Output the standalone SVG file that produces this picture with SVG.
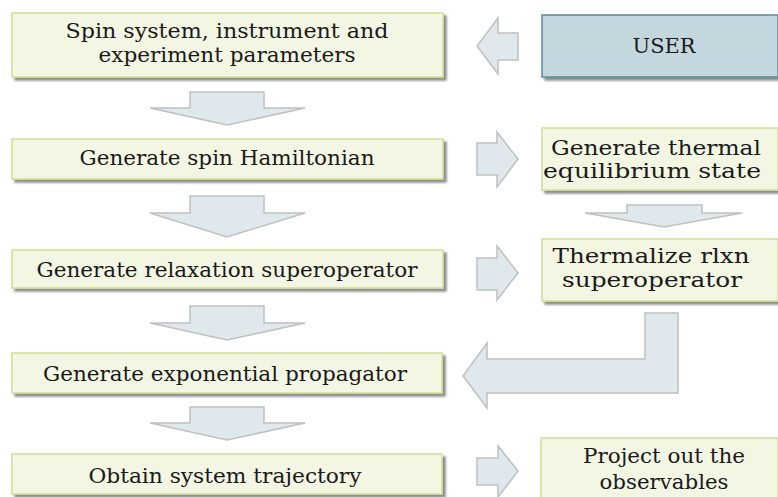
<svg xmlns="http://www.w3.org/2000/svg" width="778" height="497" viewBox="0 0 778 497">
<defs>
<filter id="sh" x="-5%" y="-20%" width="115%" height="150%">
<feGaussianBlur in="SourceAlpha" stdDeviation="1.3"/>
<feOffset dx="2.5" dy="2.5" result="b"/>
<feComponentTransfer><feFuncA type="linear" slope="0.45"/></feComponentTransfer>
<feMerge><feMergeNode/><feMergeNode in="SourceGraphic"/></feMerge>
</filter>
<style>
.box{fill:#F4F6E4;stroke:#D0DE94;stroke-width:1.5;filter:url(#sh)}
.user{fill:#C4D7DE;stroke:#5B8A96;stroke-width:1.5;filter:url(#sh)}
.arr{fill:#DEE8ED;stroke:#C0C0C0;stroke-width:1.5}
text{font-family:"DejaVu Serif","Liberation Serif",serif;font-size:21px;fill:#1a1a1a;text-anchor:middle}
</style>
</defs>
<rect width="778" height="497" fill="#fff"/>
<g id="connectors">
<polygon class="arr" points="518,33 498,33 498,18 477,46 498,74 498,60 518,60"/>
<polygon class="arr" points="190,92 264,92 264,108 305,108 227,125 150,108 190,108"/>
<polygon class="arr" points="477,143 497,143 497,132 518,159 497,187 497,175 477,175"/>
<polygon class="arr" points="190,196 264,196 264,213 305,213 227,237 150,213 190,213"/>
<polygon class="arr" points="627,205 702,205 702,213 742,213 664,227 585,213 627,213"/>
<polygon class="arr" points="477,258 497,258 497,246 518,273 497,300 497,290 477,290"/>
<polygon class="arr" points="190,306 264,306 264,323 305,323 227,340 150,323 190,323"/>
<polygon class="arr" points="645,313 678,313 678,393 487,393 487,408 463,376 487,343 487,359 645,359"/>
<polygon class="arr" points="190,407 264,407 264,423 305,423 227,440 150,423 190,423"/>
<polygon class="arr" points="477,458 498,458 498,446 518,471 498,497 498,485 477,485"/>
</g>
<g id="n1"><rect class="box" x="12" y="13" width="431" height="64"/>
<text x="227" y="38" textLength="323" lengthAdjust="spacingAndGlyphs">Spin system, instrument and</text><text x="227" y="62" textLength="257" lengthAdjust="spacingAndGlyphs">experiment parameters</text></g>
<g id="n-user"><rect class="user" x="542" y="15" width="236" height="62"/>
<text x="664" y="53" textLength="63" lengthAdjust="spacingAndGlyphs">USER</text></g>
<g id="n2"><rect class="box" x="12" y="139" width="431" height="40"/>
<text x="227" y="165" textLength="295" lengthAdjust="spacingAndGlyphs">Generate spin Hamiltonian</text></g>
<g id="n-thermal"><rect class="box" x="542" y="128" width="236" height="62"/>
<text x="656" y="155" textLength="210" lengthAdjust="spacingAndGlyphs">Generate thermal</text><text x="652" y="178" textLength="218" lengthAdjust="spacingAndGlyphs">equilibrium state</text></g>
<g id="n3"><rect class="box" x="12" y="250" width="431" height="38"/>
<text x="227" y="277" textLength="381" lengthAdjust="spacingAndGlyphs">Generate relaxation superoperator</text></g>
<g id="n-thermalize"><rect class="box" x="542" y="239" width="236" height="62"/>
<text x="651" y="263" textLength="197" lengthAdjust="spacingAndGlyphs">Thermalize rlxn</text><text x="652" y="287" textLength="180" lengthAdjust="spacingAndGlyphs">superoperator</text></g>
<g id="n4"><rect class="box" x="12" y="353" width="430" height="40"/>
<text x="225" y="381" textLength="364" lengthAdjust="spacingAndGlyphs">Generate exponential propagator</text></g>
<g id="n5"><rect class="box" x="12" y="454" width="430" height="40"/>
<text x="225" y="483" textLength="273" lengthAdjust="spacingAndGlyphs">Obtain system trajectory</text></g>
<g id="n-project"><rect class="box" x="541" y="438" width="237" height="64"/>
<text x="664" y="463" textLength="162" lengthAdjust="spacingAndGlyphs">Project out the</text><text x="664" y="489" textLength="129" lengthAdjust="spacingAndGlyphs">observables</text></g>
</svg>
